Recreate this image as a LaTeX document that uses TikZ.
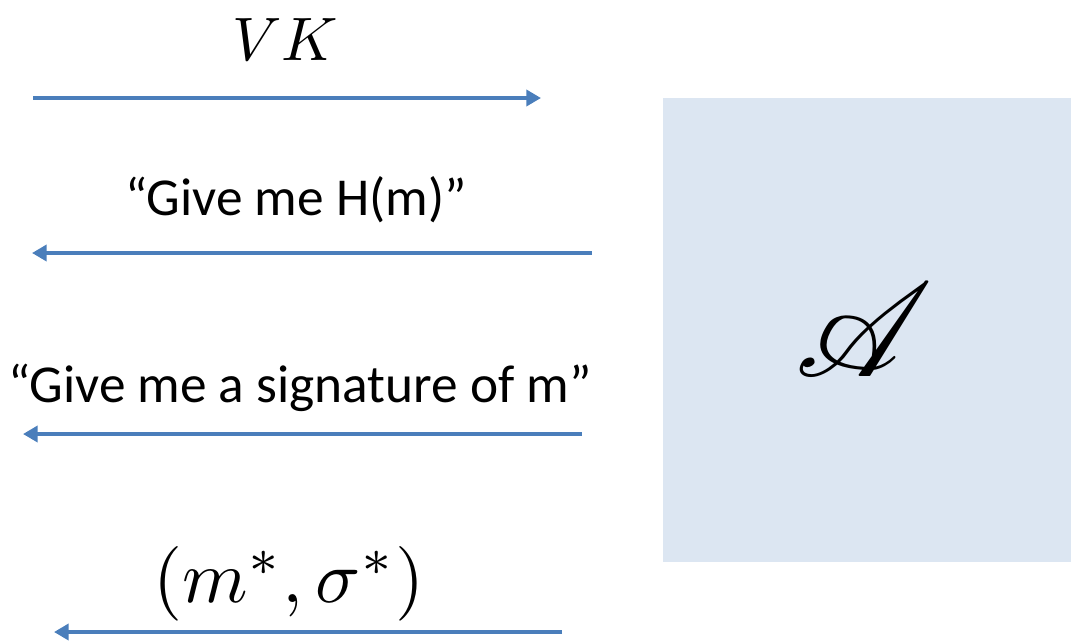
\documentclass[tikz,border=0pt]{standalone}
\usepackage{fontspec}
\usepackage{mathrsfs}
\setmainfont{Carlito}
\usetikzlibrary{arrows.meta}
\definecolor{arrblue}{HTML}{4A7EBB}
\definecolor{boxblue}{HTML}{DCE6F2}
\tikzset{
  msg/.style={draw=arrblue, line width=3.3pt, -{Triangle[length=11pt,width=12pt]}},
  lbl/.style={inner sep=0pt, font=\fontsize{40}{48}\selectfont},
  mathlbl/.style={inner sep=0pt, font=\fontsize{10}{12}\selectfont},
}
\begin{document}
\begin{tikzpicture}[x=0.75pt,y=-0.75pt]
\useasboundingbox (0,0) rectangle (1071,640);
% adversary box
\node[fill=boxblue, minimum width=408*0.75pt, minimum height=464*0.75pt, inner sep=0pt, anchor=north west] (adv) at (663,98) {};
\node[mathlbl, scale=10] (advl) at (864,330) {$\mathscr{A}$};
% messages
\coordinate (a1s) at (33,98);  \coordinate (a1e) at (541,98);
\coordinate (a2s) at (592,253); \coordinate (a2e) at (32,253);
\coordinate (a3s) at (582,434); \coordinate (a3e) at (23,434);
\coordinate (a4s) at (562,632); \coordinate (a4e) at (54,632);
\draw[msg] (a1s) -- (a1e);
\draw[msg] (a2s) -- (a2e);
\draw[msg] (a3s) -- (a3e);
\draw[msg] (a4s) -- (a4e);
\node[mathlbl, scale=4.6] (l1) at (285,40) {$VK$};
\node[lbl] (l2) at (296,200) {“Give me H(m)”};
\node[lbl] (l3) at (300,388) {“Give me a signature of m”};
\node[mathlbl, scale=5.6] (l4) at (289,584) {$(m^*,\sigma^*)$};
\end{tikzpicture}
\end{document}
